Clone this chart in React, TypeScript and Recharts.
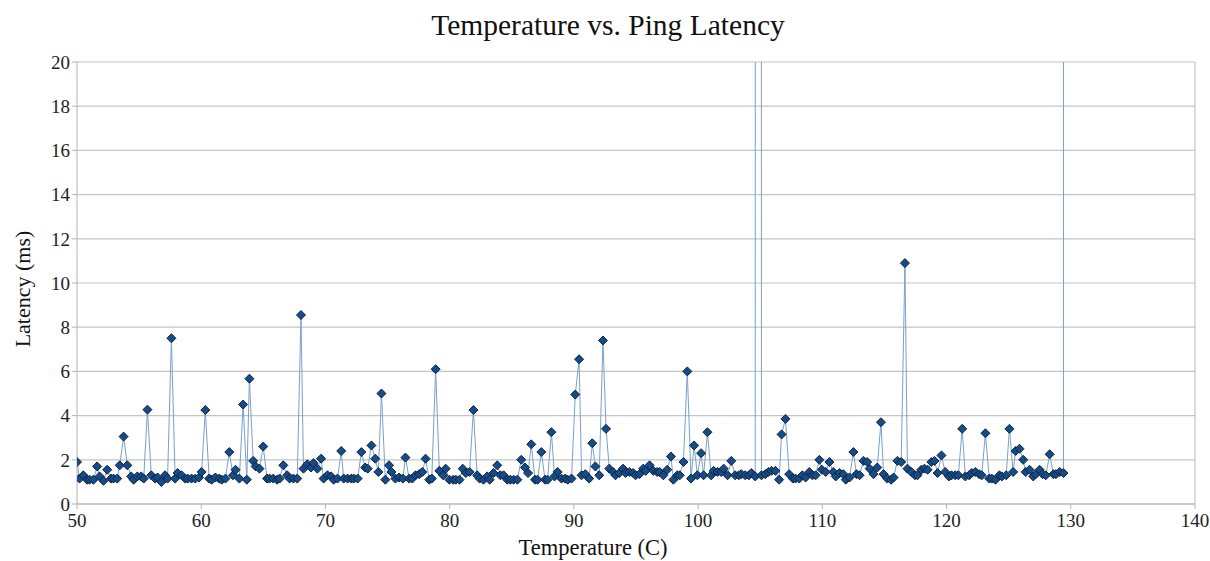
import React from 'react'
import { LineChart, Line, XAxis, YAxis, CartesianGrid, ReferenceLine } from 'recharts'

// temperature (C) per sample
const temps = [
  50.0, 50.2, 50.51, 50.81, 51.01, 51.32, 51.62, 51.82, 52.13, 52.43, 52.73, 52.94, 53.24, 53.44, 53.75, 54.05,
  54.36, 54.56, 54.86, 55.17, 55.37, 55.67, 55.98, 56.28, 56.48, 56.79, 57.09, 57.29, 57.6, 57.9, 58.1, 58.41,
  58.71, 58.91, 59.22, 59.52, 59.83, 60.03, 60.33, 60.64, 60.84, 61.14, 61.45, 61.65, 61.95, 62.26, 62.56, 62.76,
  63.07, 63.37, 63.67, 63.88, 64.18, 64.38, 64.69, 64.99, 65.3, 65.5, 65.8, 66.11, 66.31, 66.61, 66.92, 67.12,
  67.42, 67.73, 68.03, 68.23, 68.54, 68.84, 69.04, 69.35, 69.65, 69.85, 70.16, 70.46, 70.66, 70.97, 71.27, 71.47,
  71.78, 72.08, 72.28, 72.59, 72.89, 73.2, 73.4, 73.7, 74.01, 74.26, 74.51, 74.82, 75.12, 75.32, 75.63, 75.93,
  76.23, 76.44, 76.74, 76.99, 77.25, 77.55, 77.8, 78.06, 78.36, 78.56, 78.87, 79.17, 79.48, 79.68, 79.98, 80.29,
  80.49, 80.79, 81.05, 81.3, 81.6, 81.91, 82.21, 82.41, 82.72, 83.02, 83.22, 83.53, 83.83, 84.08, 84.34, 84.64,
  84.89, 85.15, 85.45, 85.76, 86.06, 86.31, 86.57, 86.87, 87.07, 87.38, 87.68, 87.88, 88.19, 88.44, 88.69, 89.0,
  89.3, 89.5, 89.81, 90.11, 90.42, 90.62, 90.92, 91.23, 91.48, 91.73, 92.04, 92.34, 92.59, 92.85, 93.15, 93.35,
  93.66, 93.96, 94.16, 94.47, 94.77, 94.97, 95.28, 95.58, 95.78, 96.09, 96.39, 96.7, 96.9, 97.2, 97.51, 97.81,
  98.01, 98.32, 98.52, 98.82, 99.13, 99.43, 99.68, 99.94, 100.24, 100.44, 100.75, 101.05, 101.25, 101.56, 101.86, 102.06,
  102.37, 102.67, 102.98, 103.28, 103.48, 103.79, 104.09, 104.29, 104.6, 104.85, 105.1, 105.41, 105.66, 105.91, 106.22, 106.52,
  106.72, 107.03, 107.33, 107.63, 107.84, 108.14, 108.39, 108.65, 108.95, 109.2, 109.46, 109.76, 109.96, 110.27, 110.57, 110.88,
  111.08, 111.38, 111.69, 111.89, 112.19, 112.5, 112.75, 113.0, 113.31, 113.61, 113.81, 114.12, 114.42, 114.72, 114.93, 115.23,
  115.54, 115.74, 116.04, 116.35, 116.65, 116.85, 117.16, 117.46, 117.66, 117.97, 118.22, 118.47, 118.78, 119.03, 119.28, 119.59,
  119.89, 120.19, 120.4, 120.7, 120.95, 121.26, 121.51, 121.82, 122.02, 122.32, 122.63, 122.83, 123.13, 123.44, 123.64, 123.94,
  124.25, 124.45, 124.8, 125.06, 125.36, 125.56, 125.87, 126.17, 126.37, 126.68, 126.98, 127.18, 127.49, 127.74, 127.99, 128.3,
  128.6, 128.8, 129.11, 129.41, 129.51,
]

// ping latency (ms) per sample; the two timeouts run far off the top of the scale
const latency = [
  1.9, 1.15, 1.3, 1.1, 1.1, 1.1, 1.7, 1.25, 1.05, 1.55, 1.15, 1.15, 1.15, 1.75, 3.05, 1.75,
  1.25, 1.1, 1.25, 1.25, 1.15, 4.27, 1.3, 1.15, 1.2, 1.0, 1.3, 1.15, 7.5, 1.15, 1.4, 1.3,
  1.15, 1.15, 1.15, 1.15, 1.2, 1.45, 4.25, 1.15, 1.1, 1.2, 1.15, 1.1, 1.15, 2.35, 1.3, 1.55,
  1.15, 4.5, 1.1, 5.67, 1.95, 1.7, 1.6, 2.6, 1.15, 1.15, 1.15, 1.1, 1.15, 1.75, 1.3, 1.15,
  1.15, 1.15, 8.55, 1.6, 1.8, 1.65, 1.85, 1.6, 2.05, 1.15, 1.3, 1.25, 1.1, 1.15, 2.4, 1.15,
  1.15, 1.15, 1.15, 1.15, 2.35, 1.65, 1.6, 2.65, 2.05, 1.45, 5.0, 1.1, 1.75, 1.45, 1.15, 1.2,
  1.15, 2.1, 1.15, 1.15, 1.3, 1.35, 1.45, 2.05, 1.1, 1.15, 6.1, 1.5, 1.3, 1.6, 1.1, 1.1,
  1.1, 1.1, 1.6, 1.4, 1.45, 4.25, 1.3, 1.15, 1.1, 1.25, 1.1, 1.4, 1.75, 1.3, 1.3, 1.1,
  1.1, 1.1, 1.1, 2.0, 1.65, 1.4, 2.7, 1.1, 1.1, 2.35, 1.1, 1.1, 3.25, 1.25, 1.45, 1.15,
  1.15, 1.1, 1.15, 4.95, 6.55, 1.3, 1.35, 1.15, 2.75, 1.7, 1.3, 7.4, 3.4, 1.6, 1.45, 1.3,
  1.4, 1.6, 1.4, 1.45, 1.4, 1.3, 1.35, 1.6, 1.5, 1.75, 1.5, 1.45, 1.45, 1.3, 1.55, 2.15,
  1.1, 1.3, 1.3, 1.9, 6.0, 1.15, 2.65, 1.3, 2.3, 1.3, 3.25, 1.3, 1.5, 1.45, 1.45, 1.6,
  1.3, 1.95, 1.3, 1.3, 1.35, 1.3, 1.3, 1.4, 1.25, 999, 1.3, 1.35, 1.45, 1.5, 1.5, 1.1,
  3.15, 3.85, 1.35, 1.15, 1.15, 1.15, 1.3, 1.2, 1.45, 1.3, 1.3, 2.0, 1.55, 1.45, 1.9, 1.45,
  1.25, 1.4, 1.35, 1.1, 1.2, 2.35, 1.35, 1.3, 1.95, 1.9, 1.6, 1.35, 1.65, 3.7, 1.35, 1.15,
  1.1, 1.2, 1.95, 1.9, 10.9, 1.6, 1.45, 1.3, 1.3, 1.55, 1.6, 1.55, 1.9, 1.95, 1.4, 2.2,
  1.45, 1.25, 1.3, 1.3, 1.3, 3.4, 1.25, 1.3, 1.4, 1.45, 1.35, 1.3, 3.2, 1.15, 1.15, 1.1,
  1.3, 1.25, 1.3, 3.4, 1.45, 2.4, 2.5, 2.0, 1.45, 1.55, 1.25, 1.35, 1.55, 1.35, 1.3, 2.25,
  1.35, 1.35, 1.45, 1.4, 999,
]

const xTicks = [50, 60, 70, 80, 90, 100, 110, 120, 130, 140]
const yTicks = [0, 2, 4, 6, 8, 10, 12, 14, 16, 18, 20]

const data = temps.map((t, i) => ({ temp: t, latency: latency[i] }))

const FONT = '"Liberation Serif", "DejaVu Serif", serif'
const GRID = '#c4c4c4'

// diamond marker like the office-suite default
const Diamond = (props: any) => {
  const { cx, cy, index } = props
  if (cx == null || cy == null) return <g key={index} />
  const r = 4.5
  return (
    <path
      key={index}
      d={`M${cx},${cy - r} L${cx + r},${cy} L${cx},${cy + r} L${cx - r},${cy} Z`}
      fill="#124c8a"
      stroke="#14213a"
      strokeWidth={1}
    />
  )
}

export default function App() {
  return (
    <div style={{ position: 'absolute', left: 0, top: 0, width: 1210, height: 561, background: '#fff', fontFamily: FONT }}>
      <div style={{ position: 'absolute', left: 608, top: 9, transform: 'translateX(-50%)', fontSize: 29.5, whiteSpace: 'nowrap', color: '#111' }}>
        Temperature vs. Ping Latency
      </div>
      <div style={{ position: 'absolute', left: 593, top: 535, transform: 'translateX(-50%)', fontSize: 22.5, whiteSpace: 'nowrap', color: '#111' }}>
        Temperature (C)
      </div>
      <div style={{ position: 'absolute', left: 23, top: 289, transform: 'translate(-50%, -50%) rotate(-90deg)', fontSize: 22, whiteSpace: 'nowrap', color: '#111' }}>
        Latency (ms)
      </div>
      <LineChart width={1210} height={561} data={data} margin={{ top: 62, right: 15, bottom: 27, left: 0 }}>
        <CartesianGrid vertical={false} stroke={GRID} strokeWidth={1.2} />
        <XAxis
          type="number"
          dataKey="temp"
          domain={[50, 140]}
          ticks={xTicks}
          allowDataOverflow
          height={30}
          stroke="#b3b3b3"
          tickSize={5}
          tickMargin={5}
          tick={{ fill: '#222', fontSize: 19, fontFamily: FONT }}
        />
        <YAxis
          type="number"
          domain={[0, 20]}
          ticks={yTicks}
          allowDataOverflow
          width={77}
          stroke="#b3b3b3"
          tickSize={5}
          tickMargin={2}
          tick={{ fill: '#222', fontSize: 19, fontFamily: FONT }}
        />
        <ReferenceLine x={140} stroke={GRID} strokeWidth={1.2} />
        <Line
          type="linear"
          dataKey="latency"
          stroke="#7aa0cc"
          strokeWidth={1}
          dot={Diamond}
          activeDot={false}
          isAnimationActive={false}
        />
      </LineChart>
    </div>
  )
}
